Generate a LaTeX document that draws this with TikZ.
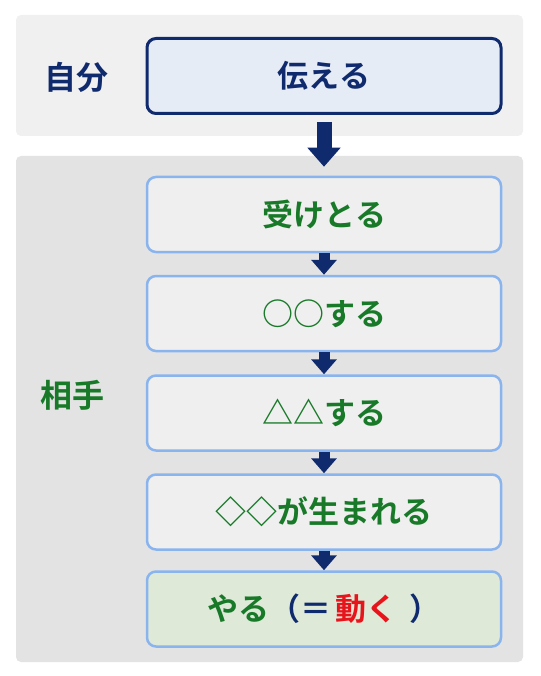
\documentclass[tikz,border=0pt]{standalone}
\usepackage{fontspec}
\usepackage{tikz}
\newfontfamily\jpfont{Noto Sans CJK JP}[BoldFont={Noto Sans CJK JP Bold}]
\definecolor{navy}{RGB}{16,42,110}
\definecolor{darkgreen}{RGB}{24,122,40}
\definecolor{hotred}{RGB}{232,20,28}
\definecolor{paleblue}{RGB}{230,236,245}
\definecolor{skyline}{RGB}{138,180,238}
\definecolor{stepfill}{RGB}{239,239,239}
\definecolor{donefill}{RGB}{222,233,216}
\definecolor{panelA}{RGB}{240,240,240}
\definecolor{panelB}{RGB}{227,227,227}
\usetikzlibrary{positioning,arrows.meta}
\tikzset{%
  panel/.style={rounded corners=5pt},% grey background blocks
  box/.style={draw, rectangle, rounded corners=9pt, minimum width=354pt,
    minimum height=75pt, font=\jpfont\bfseries\fontsize{31}{33}\selectfont},
  sender/.style={box, draw=navy, line width=3pt, fill=paleblue, text=navy},% own action
  stepbox/.style={box, draw=skyline, line width=2.5pt, fill=stepfill, text=darkgreen},% partner steps
  side/.style={font=\jpfont\bfseries\fontsize{32}{34}\selectfont},% row labels
  flow/.style={line width=11pt, navy, -{Triangle[width=25pt,length=15pt]}},% small arrows
  bigflow/.style={line width=15pt, navy, -{Triangle[width=32pt,length=19pt]}}% arrow between blocks
}

\begin{document}
\begin{tikzpicture}[x=1pt, y=-1pt]
\useasboundingbox[fill=white] (0,0) rectangle (540,676);
\fill[panel, panelA] (16,15) rectangle (523,136);
\fill[panel, panelB] (16,156) rectangle (523,662);

\node[sender] (tell) at (324,76) {伝える};
\node[side, text=navy] (self) at (76,77) {自分};

\node[stepbox] (s1) at (324,214.5) {受けとる};
\node[stepbox] (s2) at (324,313.5) {○○する};
\node[stepbox] (s3) at (324,413) {△△する};
\node[stepbox] (s4) at (324,512) {◇◇が生まれる};
\node[stepbox, fill=donefill] (s5) at (324,609)
  {やる{\color{navy}（＝}\hspace{4pt}{\color{hotred}動く}\hspace{12pt}{\color{navy}）}};
\node[side, text=darkgreen] (other) at (72,395) {相手};

\draw[bigflow, shorten <=7pt, shorten >=9pt] (tell.south) -- (s1.north);
\foreach \a/\b in {s1/s2, s2/s3, s3/s4, s4/s5}
  \draw[flow] (\a.south) -- (\b.north);

\end{tikzpicture}
\end{document}
